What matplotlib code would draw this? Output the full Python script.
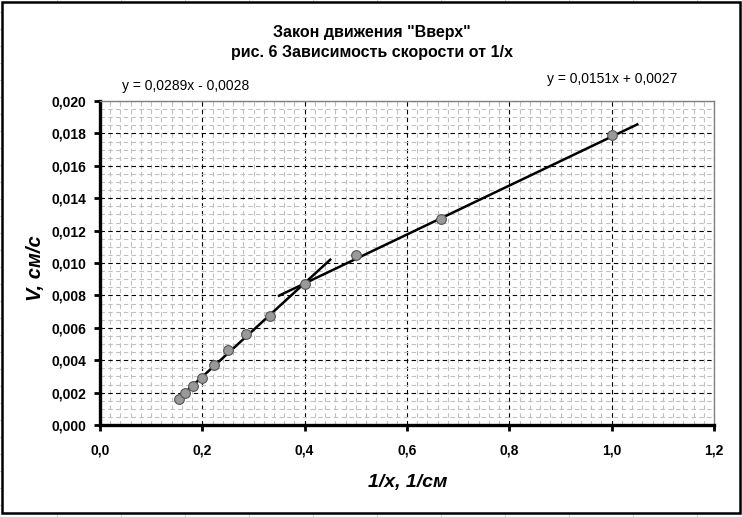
import matplotlib
matplotlib.use("Agg")
import matplotlib.pyplot as plt
from matplotlib.ticker import MultipleLocator, FuncFormatter
from matplotlib.patches import Rectangle
from matplotlib.lines import Line2D

plt.rcParams['font.family'] = ['Liberation Sans', 'DejaVu Sans']

# 1/x values and measured speed
inv_x = [0.154, 0.167, 0.182, 0.200, 0.222, 0.250, 0.286, 0.333, 0.400, 0.500, 0.667, 1.000]
speed = [0.0016, 0.0020, 0.0024, 0.0029, 0.0037, 0.0046, 0.0056, 0.0067, 0.0087, 0.0105, 0.0127, 0.0179]

# linear trendlines: slope, intercept, x range
fit1 = [0.0289, -0.0028]
fit1_range = [0.154, 0.45]
fit2 = [0.0151, 0.0027]
fit2_range = [0.35, 1.05]

title1 = 'Закон движения "Вверх"'
title2 = 'рис. 6 Зависимость скорости от 1/х'
eq1_text = 'y = 0,0289x - 0,0028'
eq2_text = 'y = 0,0151x + 0,0027'

W, H = 742, 517


def px(x, y):
    return x / W, 1 - y / H


def comma(fmt):
    return FuncFormatter(lambda v, pos: (fmt % v).replace('.', ','))


def main():
    fig = plt.figure(figsize=(W / 100, H / 100), dpi=100)
    ax = fig.add_axes([100 / W, 1 - 425 / H, (714 - 100) / W, (425 - 101) / H])

    ax.set_xlim(0, 1.2)
    ax.set_ylim(0, 0.020)
    ax.xaxis.set_major_locator(MultipleLocator(0.2))
    ax.xaxis.set_minor_locator(MultipleLocator(0.02))
    ax.yaxis.set_major_locator(MultipleLocator(0.002))
    ax.yaxis.set_minor_locator(MultipleLocator(0.0005))
    ax.xaxis.set_major_formatter(comma('%.1f'))
    ax.yaxis.set_major_formatter(comma('%.3f'))

    ax.set_axisbelow(True)
    ax.grid(which='minor', color='#c0c0c0', linestyle=(0, (4, 3)), linewidth=0.8)
    ax.grid(which='major', color='black', linestyle=(0, (4, 3)), linewidth=0.8)

    for s in ['top', 'right']:
        ax.spines[s].set_color('#808080')
        ax.spines[s].set_linewidth(1.0)
    for s in ['left', 'bottom']:
        ax.spines[s].set_color('black')
        ax.spines[s].set_linewidth(2.4)

    ax.tick_params(which='major', direction='out', length=4, width=2, color='black', pad=6)
    ax.tick_params(which='minor', length=0)
    ax.tick_params(axis='x', pad=9)
    for lab in ax.get_xticklabels() + ax.get_yticklabels():
        lab.set_fontweight('bold')
        lab.set_fontsize(10)

    # trendlines
    ax.plot(fit1_range, [fit1[0] * x + fit1[1] for x in fit1_range], color='black', lw=1.8, zorder=3)
    ax.plot(fit2_range, [fit2[0] * x + fit2[1] for x in fit2_range], color='black', lw=1.8, zorder=3)

    ax.plot(inv_x, speed, linestyle='none', marker='o', markersize=7,
            markerfacecolor='#999999', markeredgecolor='#555555', markeredgewidth=0.8, zorder=4)

    # titles and text
    fig.text(*px(372, 33), title1, ha='center', va='center', fontsize=11.5, fontweight='bold')
    fig.text(*px(372, 53), title2, ha='center', va='center', fontsize=11.5, fontweight='bold')
    fig.text(*px(122, 86), eq1_text, ha='left', va='center', fontsize=10)
    fig.text(*px(547, 79), eq2_text, ha='left', va='center', fontsize=10)
    fig.text(*px(408, 482), '1/x, 1/см', ha='center', va='center', fontsize=14,
             fontweight='bold', fontstyle='italic')
    fig.text(*px(36, 268), 'V, см/с', ha='center', va='center', fontsize=14.5,
             fontweight='bold', fontstyle='italic', rotation=90)

    # chart border and spreadsheet cells behind it
    for k in range(12):
        xx = 57 + 64 * k
        fig.add_artist(Line2D([xx / W] * 2, [0, 1], color='#d0d0d0', lw=0.8, zorder=-2))
    for k in range(31):
        yy = 12 + 17 * k
        fig.add_artist(Line2D([0, 1], [1 - yy / H] * 2, color='#d0d0d0', lw=0.8, zorder=-2))
    fig.add_artist(Rectangle(px(2, 513), 738 / W, 511 / H, facecolor='white',
                             edgecolor='black', lw=1.8, zorder=-1))

    fig.savefig('out.png', dpi=100)


if __name__ == "__main__":
    main()
